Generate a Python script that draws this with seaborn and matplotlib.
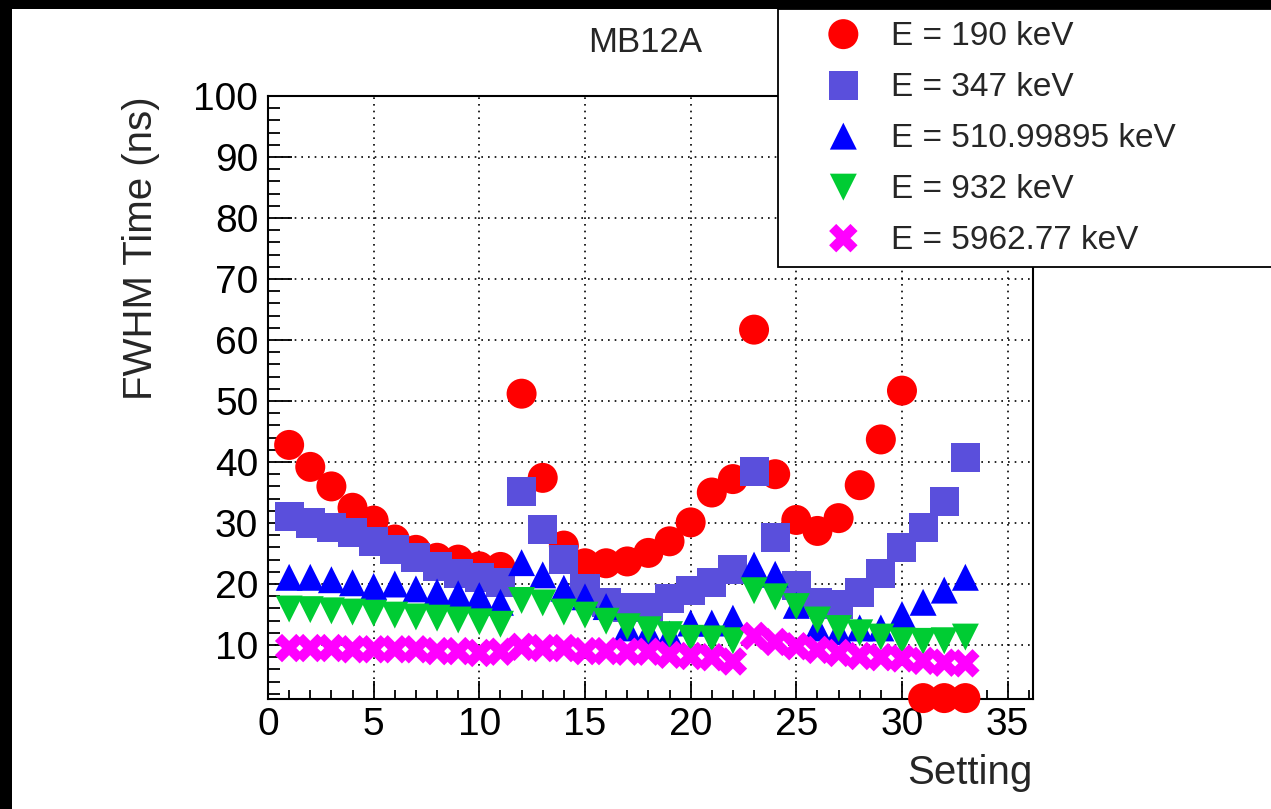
import matplotlib
matplotlib.use("Agg")
import matplotlib.pyplot as plt
import seaborn as sns
from matplotlib.patches import Rectangle
from matplotlib.ticker import MultipleLocator

# ---------------- data ----------------
settings = list(range(1, 34))

fwhm_190 = [42.8, 39.2, 36.0, 32.5, 30.4, 27.3, 25.6, 24.3, 24.0, 22.9, 22.8,
            51.2, 37.4, 26.3, 23.4, 23.4, 23.7, 25.1, 27.0, 30.1, 35.0, 37.2,
            61.7, 38.0, 30.5, 28.7, 30.8, 36.2, 43.7, 51.7, 1.3, 1.3, 1.3]
fwhm_347 = [31.1, 30.0, 29.2, 28.4, 26.9, 25.6, 24.3, 22.8, 21.8, 21.1, 20.3,
            35.1, 28.9, 24.0, 19.3, 17.0, 16.2, 16.2, 17.7, 19.0, 20.3, 22.3,
            38.4, 27.7, 19.8, 17.0, 16.7, 18.6, 21.8, 26.0, 29.3, 33.6, 40.8]
fwhm_511 = [21.1, 21.1, 20.7, 20.2, 19.6, 20.0, 19.2, 18.7, 18.4, 18.1, 17.0,
            23.5, 21.5, 19.3, 17.9, 16.3, 12.8, 12.3, 11.8, 13.6, 13.6, 14.4,
            23.1, 21.6, 16.5, 12.8, 12.2, 12.8, 12.8, 15.0, 17.0, 19.0, 21.1]
fwhm_932 = [15.9, 15.8, 15.6, 15.4, 15.2, 14.9, 14.6, 14.4, 14.1, 13.8, 13.4,
            17.3, 16.9, 15.4, 14.9, 13.9, 13.0, 12.5, 11.7, 11.1, 11.0, 10.7,
            18.9, 17.9, 16.3, 14.1, 12.7, 12.0, 11.3, 10.7, 10.6, 10.7, 11.3]
fwhm_5963 = [9.5, 9.5, 9.5, 9.3, 9.3, 9.3, 9.3, 9.0, 9.0, 8.7, 8.9,
             9.7, 9.5, 9.5, 9.0, 9.0, 8.9, 8.9, 8.4, 8.2, 8.0, 7.3,
             11.5, 10.5, 9.8, 9.2, 8.7, 8.2, 8.0, 7.8, 7.4, 7.1, 7.0]

labels = ["E = 190 keV", "E = 347 keV", "E = 510.99895 keV",
          "E = 932 keV", "E = 5962.77 keV"]
series = [fwhm_190, fwhm_347, fwhm_511, fwhm_932, fwhm_5963]
title = "MB12A"
xlabel = "Setting"
ylabel = "FWHM Time (ns)"

# ---------------- style ----------------
sns.set_style("ticks")
plt.rcParams["font.family"] = ["Liberation Sans", "DejaVu Sans"]

W, H = 1271, 809
fig = plt.figure(figsize=(W / 100, H / 100), dpi=100)
fig.patch.set_facecolor("white")

L, R, T, B = 268, 1033, 96, 699
ax = fig.add_axes([L / W, 1 - B / H, (R - L) / W, (B - T) / H])

markers = ["o", "s", "^", "v", "X"]
colors = ["#ff0000", "#5a4fdc", "#0000ff", "#00cc33", "#ff00ff"]
sizes = [21.6, 20.9, 19.4, 19.4, 20.5]

for vals, m, c, sz, lab in zip(series, markers, colors, sizes, labels):
    sns.scatterplot(x=settings, y=vals, ax=ax, marker=m, color=c, s=sz ** 2,
                    linewidth=0, edgecolor="none", label=lab, legend=False,
                    zorder=3, clip_on=False)

ax.set_xlim(0, 36.2)
ax.set_ylim(1.15, 100)
ax.xaxis.set_major_locator(MultipleLocator(5))
ax.xaxis.set_minor_locator(MultipleLocator(1))
ax.yaxis.set_major_locator(MultipleLocator(10))
ax.yaxis.set_minor_locator(MultipleLocator(2))

ax.grid(True, which="major", color="black", linestyle=(0, (1, 3)), linewidth=1.2)
for s in ax.spines.values():
    s.set_visible(True)
    s.set_color("black")
    s.set_linewidth(1.5)

ax.tick_params(axis="both", which="both", direction="in", colors="black",
               labelsize=28, width=1.3)
ax.tick_params(axis="x", which="major", length=13, pad=6)
ax.tick_params(axis="x", which="minor", length=6.5)
ax.tick_params(axis="y", which="major", length=17, pad=7)
ax.tick_params(axis="y", which="minor", length=8.5)
ax.tick_params(top=False, right=False, which="both")

ax.set_xlabel(xlabel, fontsize=29, loc="right", labelpad=8)
ax.set_ylabel(ylabel, fontsize=29, loc="top", labelpad=24)

fig.text(645 / W, 1 - 42 / H, title, ha="center", va="center", fontsize=25)

# black border bands of the reference image
fig.patches.append(Rectangle((0, 1 - 9 / H), 1, 9 / H, transform=fig.transFigure,
                             facecolor="black", edgecolor="none", zorder=10))
fig.patches.append(Rectangle((0, 0), 12 / W, 1, transform=fig.transFigure,
                             facecolor="black", edgecolor="none", zorder=10))

# legend box
fig.patches.append(Rectangle((778 / W, 1 - 267 / H), (1280 - 778) / W, (267 - 9) / H,
                             transform=fig.transFigure, facecolor="white",
                             edgecolor="black", linewidth=1.3, zorder=4))
handles, labs = ax.get_legend_handles_labels()
leg = fig.legend(handles, labs, loc="upper left",
                 bbox_to_anchor=(810 / W, 1 - 19 / H), frameon=False,
                 fontsize=24, borderpad=0, borderaxespad=0,
                 handlelength=2, handleheight=1.0, handletextpad=0.43,
                 labelspacing=0.53, scatterpoints=1)
leg.set_zorder(11)

fig.savefig("out.png", dpi=100)
